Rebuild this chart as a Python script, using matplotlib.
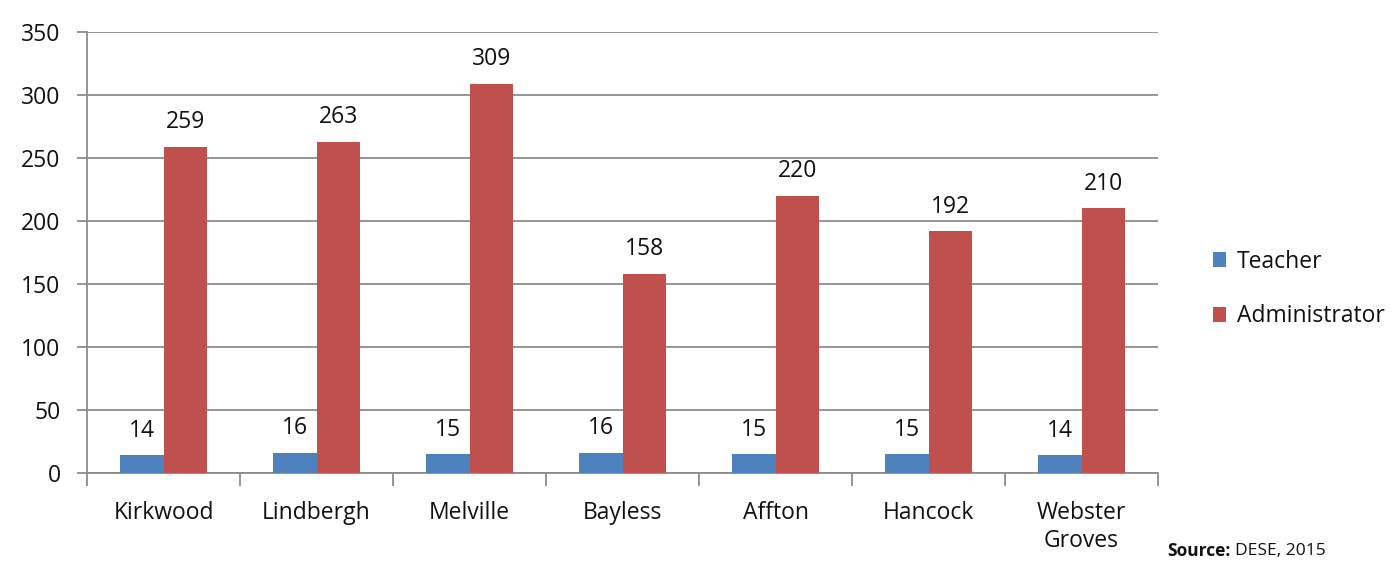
import matplotlib
matplotlib.use("Agg")
import matplotlib.pyplot as plt
import numpy as np

categories = ["Kirkwood", "Lindbergh", "Melville", "Bayless", "Affton", "Hancock", "Webster\nGroves"]
teacher = [14, 16, 15, 16, 15, 15, 14]
administrator = [259, 263, 309, 158, 220, 192, 210]
series_names = ["Teacher", "Administrator"]
yticks = [0, 50, 100, 150, 200, 250, 300, 350]

plt.rcParams['font.family'] = ['Open Sans', 'DejaVu Sans']

fig = plt.figure(figsize=(13.98, 5.62), dpi=100)
ax = fig.add_axes([87/1398, 89/562, (1158-87)/1398, (473-32)/562])

x = np.arange(len(categories))
w = 0.287
c_blue = "#4F81BD"
c_red = "#C0504D"
fs = 16.5
b1 = ax.bar(x - w/2, teacher, w, color=c_blue, label=series_names[0], zorder=3)
b2 = ax.bar(x + w/2, administrator, w, color=c_red, label=series_names[1], zorder=3)

for rect, v in list(zip(b1, teacher)) + list(zip(b2, administrator)):
    ax.annotate(str(v), (rect.get_x() + rect.get_width()/2, v), xytext=(0, 9),
                textcoords="offset points", ha="center", va="bottom", fontsize=fs, color="#111111")

ax.set_xlim(-0.5, len(categories) - 0.5)
ax.set_ylim(0, 350)
ax.set_yticks(yticks)
ax.set_yticklabels([str(t) for t in yticks], fontsize=fs, color="#111111")
ax.yaxis.grid(True, color="#8c8c8c", linewidth=1.3, zorder=0)
ax.set_axisbelow(True)
ax.tick_params(axis='y', length=7, color="#8c8c8c", width=1.3, pad=12)

ax.set_xticks(x)
ax.set_xticklabels(categories, fontsize=fs, color="#111111", linespacing=1.25)
ax.set_xticks(np.arange(len(categories) + 1) - 0.5, minor=True)
ax.tick_params(axis='x', which='major', length=0, pad=20)
ax.tick_params(axis='x', which='minor', length=9, color="#8c8c8c", width=1.3)

for s in ["top", "right"]:
    ax.spines[s].set_visible(False)
for s in ["left", "bottom"]:
    ax.spines[s].set_color("#8c8c8c")
    ax.spines[s].set_linewidth(1.3)

leg = fig.legend(handles=[b1, b2], labels=series_names, loc="center left",
                 bbox_to_anchor=(1192/1398, (562-289)/562), frameon=False, fontsize=fs,
                 handlelength=0.6, handleheight=0.6, handletextpad=0.45, labelspacing=1.35)
for t in leg.get_texts():
    t.set_color("#111111")

fig.text(1167/1398, (562-551)/562, "Source:", fontsize=12.5, fontweight="bold", ha="left", va="center", color="#111111")
fig.text(1235/1398, (562-551)/562, "DESE, 2015", fontsize=12.5, ha="left", va="center", color="#111111")

fig.savefig("out.png", dpi=100)
